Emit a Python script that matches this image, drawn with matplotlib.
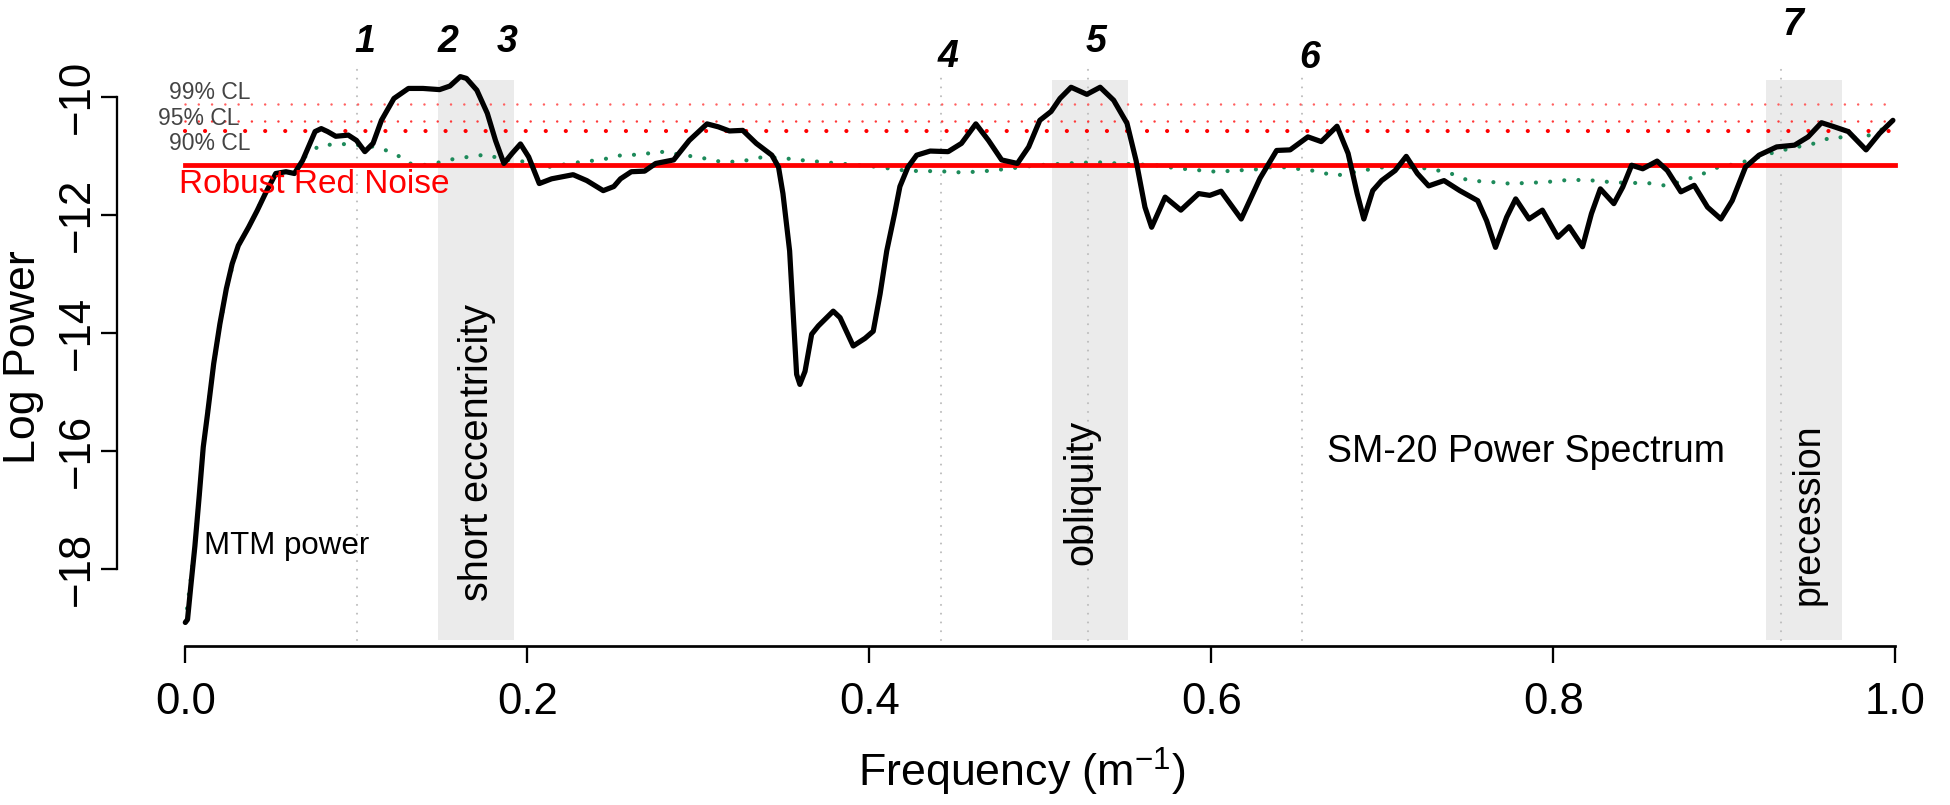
import matplotlib
matplotlib.use("Agg")
import matplotlib.pyplot as plt

plt.rcParams["font.family"] = ["Liberation Sans", "DejaVu Sans"]

# MTM power spectrum (frequency in 1/m, log power)
freq = [0.000, 0.0013, 0.0032, 0.0056, 0.0081, 0.0105, 0.0130, 0.0166, 0.0202, 0.0240,
        0.0274, 0.0310, 0.0370, 0.0420, 0.0468, 0.0529, 0.0589, 0.0638, 0.0686, 0.0759,
        0.0795, 0.0832, 0.0880, 0.0953, 0.1001, 0.1050, 0.1098, 0.1147, 0.1220, 0.1305,
        0.1390, 0.1487, 0.1547, 0.1608, 0.1644, 0.1705, 0.1766, 0.1814, 0.1863, 0.1911,
        0.1960, 0.2008, 0.2070, 0.2142, 0.2268, 0.2348, 0.2444, 0.2506, 0.2545, 0.2608,
        0.2686, 0.2751, 0.2856, 0.2947, 0.3051, 0.3117, 0.3182, 0.3260, 0.3339, 0.3430,
        0.3469, 0.3495, 0.3534, 0.3556, 0.3575, 0.3594, 0.3624, 0.3663, 0.3702, 0.3789,
        0.3829, 0.3906, 0.3975, 0.4023, 0.4063, 0.4102, 0.4148, 0.4179, 0.4226, 0.4277,
        0.4356, 0.4461, 0.4539, 0.4623, 0.4697, 0.4774, 0.4866, 0.4932, 0.4997, 0.5063,
        0.5115, 0.5180, 0.5272, 0.5350, 0.5429, 0.5507, 0.5560, 0.5612, 0.5651, 0.5730,
        0.5822, 0.5926, 0.5991, 0.6057, 0.6175, 0.6285, 0.6382, 0.6461, 0.6565, 0.6643,
        0.6735, 0.6800, 0.6853, 0.6892, 0.6944, 0.6996, 0.7075, 0.7140, 0.7205, 0.7271,
        0.7361, 0.7453, 0.7558, 0.7610, 0.7662, 0.7727, 0.7780, 0.7858, 0.7936, 0.8027,
        0.8093, 0.8171, 0.8223, 0.8275, 0.8354, 0.8406, 0.8458, 0.8523, 0.8607, 0.8667,
        0.8746, 0.8824, 0.8902, 0.8980, 0.9046, 0.9124, 0.9203, 0.9306, 0.9411, 0.9490,
        0.9568, 0.9633, 0.9725, 0.9829, 0.9908, 0.9986]
power = [-18.90, -18.85, -18.29, -17.61, -16.77, -15.93, -15.37, -14.52, -13.85, -13.25,
         -12.83, -12.52, -12.21, -11.93, -11.64, -11.30, -11.27, -11.30, -11.08, -10.59,
         -10.54, -10.59, -10.67, -10.65, -10.74, -10.93, -10.79, -10.40, -10.03, -9.86,
         -9.86, -9.88, -9.82, -9.66, -9.69, -9.89, -10.28, -10.74, -11.13, -10.96,
         -10.80, -11.02, -11.47, -11.39, -11.32, -11.42, -11.59, -11.52, -11.39, -11.27,
         -11.26, -11.13, -11.07, -10.74, -10.46, -10.51, -10.58, -10.57, -10.79, -10.99,
         -11.19, -11.64, -12.61, -13.74, -14.70, -14.87, -14.65, -14.02, -13.88, -13.63,
         -13.74, -14.22, -14.09, -13.97, -13.34, -12.61, -11.98, -11.52, -11.19, -10.99,
         -10.92, -10.93, -10.79, -10.46, -10.74, -11.07, -11.13, -10.85, -10.40, -10.25,
         -10.03, -9.84, -9.96, -9.84, -10.06, -10.45, -11.08, -11.87, -12.21, -11.70,
         -11.92, -11.64, -11.67, -11.60, -12.07, -11.38, -10.91, -10.90, -10.68, -10.76,
         -10.50, -10.96, -11.64, -12.07, -11.59, -11.42, -11.25, -11.01, -11.30, -11.51,
         -11.42, -11.59, -11.76, -12.10, -12.55, -12.04, -11.73, -12.07, -11.92, -12.38,
         -12.20, -12.54, -11.98, -11.56, -11.81, -11.53, -11.16, -11.22, -11.09, -11.25,
         -11.61, -11.50, -11.87, -12.07, -11.76, -11.19, -10.99, -10.85, -10.82, -10.68,
         -10.44, -10.50, -10.59, -10.90, -10.62, -10.40]

# smoothed background (green dotted)
bg_freq = [0.000, 0.0056, 0.0105, 0.0166, 0.0240, 0.0310, 0.0370, 0.0468, 0.0529, 0.0589,
           0.0686, 0.0787, 0.0950, 0.1110, 0.1220, 0.1310, 0.1421, 0.1538, 0.1651, 0.1758,
           0.1870, 0.1987, 0.2098, 0.2210, 0.2323, 0.2430, 0.2550, 0.2659, 0.2777, 0.3012,
           0.3130, 0.3247, 0.3353, 0.3469, 0.3586, 0.3704, 0.3822, 0.3939, 0.4057, 0.4174,
           0.4291, 0.4409, 0.4514, 0.4639, 0.4748, 0.4866, 0.4984, 0.5101, 0.5219, 0.5336,
           0.5453, 0.5675, 0.5793, 0.5910, 0.6028, 0.6145, 0.6263, 0.6380, 0.6500, 0.6617,
           0.6722, 0.6830, 0.6944, 0.7061, 0.7283, 0.7401, 0.7505, 0.7623, 0.7740, 0.7858,
           0.7975, 0.8085, 0.8197, 0.8314, 0.8432, 0.8549, 0.8667, 0.8758, 0.8863, 0.8967,
           0.9085, 0.9200, 0.9306, 0.9411, 0.9529, 0.9633, 0.9750, 0.9854, 0.9932]
bg_power = [-18.90, -17.61, -15.93, -14.52, -13.25, -12.52, -12.21, -11.64, -11.30, -11.27,
            -11.05, -10.82, -10.80, -10.85, -10.95, -11.13, -11.16, -11.07, -11.02, -10.98,
            -11.07, -11.10, -11.20, -11.15, -11.10, -11.07, -10.99, -10.98, -10.93, -11.03,
            -11.10, -11.10, -11.03, -11.03, -11.07, -11.10, -11.13, -11.16, -11.19, -11.24,
            -11.26, -11.26, -11.28, -11.27, -11.24, -11.20, -11.16, -11.14, -11.12, -11.11,
            -11.13, -11.16, -11.21, -11.24, -11.27, -11.25, -11.23, -11.18, -11.22, -11.26,
            -11.34, -11.28, -11.22, -11.17, -11.22, -11.30, -11.42, -11.44, -11.47, -11.46,
            -11.44, -11.41, -11.41, -11.44, -11.46, -11.46, -11.51, -11.42, -11.32, -11.19,
            -11.13, -11.02, -10.93, -10.86, -10.79, -10.68, -10.70, -10.65, -10.54]

red_noise = -11.15
cl_names = ["99% CL", "95% CL", "90% CL"]
cl_levels = [-10.12, -10.41, -10.58]

bands = [(0.148, 0.192), (0.5067, 0.5511), (0.9244, 0.9689)]
band_names = ["short eccentricity", "obliquity", "precession"]

peak_names = ["1", "2", "3", "4", "5", "6", "7"]
peak_x = [0.105, 0.1535, 0.188, 0.446, 0.5328, 0.6573, 0.9398]
peak_y = [-9.07, -9.07, -9.07, -9.33, -9.07, -9.35, -8.78]
line_x = [0.1004, 0.4417, 0.528, 0.653, 0.9333]
line_top = [-9.41, -9.58, -9.41, -9.60, -9.41]

fig = plt.figure(figsize=(13, 5.3667), dpi=150)
ax = fig.add_axes([0.05995, 0.1974, 0.93831, 0.7852])
ax.set_xlim(-0.04, 1.03)
ax.set_ylim(-19.3, -8.6)

band_bottom, band_top = -19.19, -9.72
for (x0, x1) in bands:
    ax.fill_between([x0, x1], band_bottom, band_top, color="#ebebeb", lw=0, zorder=0)

for x, top in zip(line_x, line_top):
    ax.plot([x, x], [band_bottom, top], color="#bdbdbd", lw=1.0,
            linestyle=(0, (0.01, 4.2)), dash_capstyle="round", zorder=1)

ax.plot(bg_freq, bg_power, color="#1d8a5a", lw=2.0,
        linestyle=(0, (0.01, 3.4)), dash_capstyle="round", zorder=2)

# confidence levels: the 90% line has bigger dots
cl_styles = [(1.2, 5.3, "#ff6060"), (1.2, 5.3, "#ff3838"), (2.0, 4.8, "#ff0000")]
for lvl, (lw, gap, col) in zip(cl_levels, cl_styles):
    ax.plot([0, 1], [lvl, lvl], color=col, lw=lw,
            linestyle=(0, (0.01, gap)), dash_capstyle="round", zorder=3)

ax.plot([0, 1], [red_noise, red_noise], color="#ff0000", lw=2.3, zorder=4)
ax.plot(freq, power, color="black", lw=2.5, solid_joinstyle="round",
        solid_capstyle="round", zorder=5)

# labels
cl_text_x = [0.0142, 0.008, 0.0142]
cl_text_y = [-9.93, -10.37, -10.79]
for name, x, y in zip(cl_names, cl_text_x, cl_text_y):
    ax.text(x, y, name, fontsize=11, color="#444444", ha="center", va="center", zorder=6)
ax.text(-0.0036, -11.49, "Robust Red Noise", fontsize=16, color="#ff0000",
        ha="left", va="center", zorder=6)
ax.text(0.0109, -17.61, "MTM power", fontsize=15, ha="left", va="center", zorder=6)
ax.text(0.6674, -16.01, "SM-20 Power Spectrum", fontsize=18, ha="left", va="center")

band_text_x = [0.1703, 0.5242, 0.9493]
band_text_y = [-16.02, -16.69, -17.06]
band_text_size = [19, 19, 18]
for name, x, y, s in zip(band_names, band_text_x, band_text_y, band_text_size):
    ax.text(x, y, name, rotation=90, fontsize=s, ha="center", va="center", zorder=6)

for name, x, y in zip(peak_names, peak_x, peak_y):
    ax.text(x, y, name, fontsize=18, fontweight="bold", fontstyle="italic",
            ha="center", va="center", clip_on=False)

# R-style detached axes
for side in ["top", "right"]:
    ax.spines[side].set_visible(False)
ax.spines["left"].set_bounds(-18, -10)
ax.spines["bottom"].set_bounds(0, 1)
ax.spines["left"].set_linewidth(1.1)
ax.spines["bottom"].set_linewidth(1.3)

ax.set_xticks([0.0, 0.2, 0.4, 0.6, 0.8, 1.0])
ax.set_xticklabels(["0.0", "0.2", "0.4", "0.6", "0.8", "1.0"])
ax.set_yticks([-18, -16, -14, -12, -10])
ax.set_yticklabels(["\u221218", "\u221216", "\u221214", "\u221212", "\u221210"])
ax.tick_params(axis="x", length=8, width=1.1, labelsize=21, pad=9)
ax.tick_params(axis="y", length=7.5, width=1.1, labelsize=21, pad=1.5)
for lab in ax.get_yticklabels():
    lab.set_rotation(90)
    lab.set_va("center")

fig.text(0.0123, 0.5569, "Log Power", rotation=90, fontsize=21.5, ha="center", va="center")
fig.text(0.5241, 0.041, "Frequency (m$^{\\mathregular{-1}}$)", fontsize=21.5,
         ha="center", va="center")

fig.savefig("out.png", dpi=150)
